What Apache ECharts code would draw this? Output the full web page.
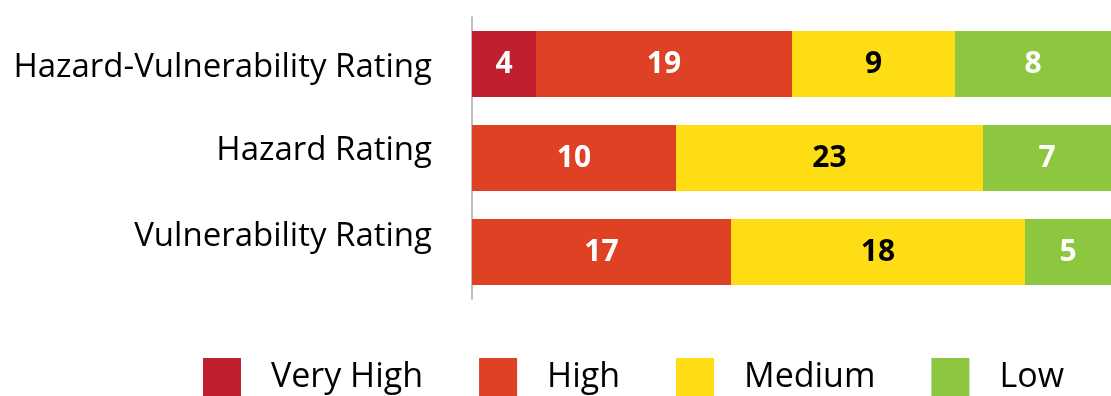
<!DOCTYPE html>
<html>
<head>
<meta charset="utf-8">
<script src="https://cdn.jsdelivr.net/npm/echarts@6/dist/echarts.min.js"></script>
<style>
  html, body { margin: 0; padding: 0; background: #fff; }
  #chart { width: 1111px; height: 396px; }
</style>
</head>
<body>
<div id="chart"></div>
<script>
// rows, top to bottom
const categories = ['Hazard-Vulnerability Rating', 'Hazard Rating', 'Vulnerability Rating'];
const levels = ['Very High', 'High', 'Medium', 'Low'];

// bar lengths as drawn (segments are not drawn to scale with the counts)
const veryHighLen = [64, 0, 0];
const highLen = [256, 204, 259];
const mediumLen = [163, 307, 294];
const lowLen = [156, 128, 86];

// counts printed on the segments
const veryHighCount = [4, null, null];
const highCount = [19, 10, 17];
const mediumCount = [9, 23, 18];
const lowCount = [8, 7, 5];

const colors = ['#C01F2F', '#DF4124', '#FFDD15', '#8DC63F'];
const labelColors = ['#fff', '#fff', '#000', '#fff'];

const lens = [veryHighLen, highLen, mediumLen, lowLen];
const counts = [veryHighCount, highCount, mediumCount, lowCount];

const font = '"Open Sans", "Noto Sans", sans-serif';

// row labels in the original sit a little off the bar centres
const catStyle = p => ({ fontSize: 33, fontFamily: font, color: '#000', padding: p });

let myChart = echarts.init(document.getElementById('chart'));
let option = {
  animation: false,
  color: colors,
  grid: {
    left: 472,
    right: 0,
    top: 17,
    bottom: 97
  },
  legend: {
    left: 198,
    top: 353,
    itemWidth: 38,
    itemHeight: 38,
    itemGap: 56,
    icon: 'rect',
    textStyle: {
      fontSize: 34,
      fontFamily: font,
      color: '#000',
      padding: [0, 0, 0, 25]
    },
    data: levels
  },
  xAxis: {
    type: 'value',
    min: 0,
    max: 639,
    show: false
  },
  yAxis: {
    type: 'category',
    inverse: true,
    data: categories,
    axisLine: {
      lineStyle: { color: '#aaa', width: 1.5 }
    },
    axisTick: { show: false },
    axisLabel: {
      margin: 40,
      formatter: (v, idx) => '{r' + idx + '|' + v + '}',
      rich: {
        r0: catStyle([8, 0, 0, 0]),
        r1: catStyle([0, 0, 14, 0]),
        r2: catStyle([0, 0, 30, 0])
      }
    }
  },
  series: levels.map((name, i) => ({
    name: name,
    type: 'bar',
    stack: 'total',
    barWidth: 66,
    data: lens[i].map((v, j) => ({
      value: v,
      label: {
        show: counts[i][j] != null,
        formatter: String(counts[i][j])
      }
    })),
    label: {
      position: 'inside',
      color: labelColors[i],
      fontSize: 30,
      fontWeight: 'bold',
      fontFamily: font
    }
  }))
};
myChart.setOption(option);
window.onresize = myChart.resize;
</script>
</body>
</html>
